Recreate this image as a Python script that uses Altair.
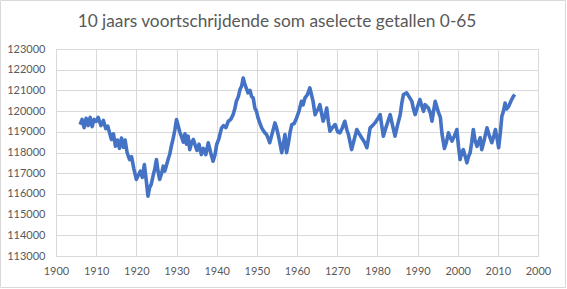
import altair as alt
import pandas as pd

years = [
1906.0,1906.5,1907.0,1907.5,1908.0,1908.5,1909.0,1909.5,1910.0,1910.5,1911.2,1911.8,1912.4,1912.9,1913.4,1913.8,
1914.3,1914.8,1915.3,1915.8,1916.3,1916.8,1917.2,1917.7,1918.3,1918.8,1919.4,1920.0,1920.5,1921.0,1921.5,1922.0,
1922.5,1922.9,1923.3,1923.7,1924.2,1924.6,1925.0,1925.4,1925.8,1926.3,1926.7,1927.1,1927.9,1928.3,1928.7,1929.2,
1929.6,1930.0,1930.4,1930.8,1931.2,1931.7,1932.1,1932.5,1932.9,1933.3,1933.8,1934.2,1934.6,1935.1,1935.6,1936.2,
1936.7,1937.3,1937.9,1938.5,1939.1,1939.6,1940.0,1940.6,1941.2,1941.7,1942.3,1942.9,1943.5,1944.1,1944.5,1944.9,
1945.4,1945.8,1946.2,1946.6,1947.0,1947.4,1947.8,1948.3,1948.7,1949.1,1949.5,1949.9,1950.3,1950.8,1951.2,1951.8,
1952.4,1952.8,1953.2,1953.8,1954.5,1954.9,1955.3,1955.7,1956.2,1956.6,1957.0,1957.4,1957.9,1958.3,1958.7,1959.3,
1959.9,1960.5,1961.1,1961.5,1962.0,1962.6,1963.2,1963.6,1964.0,1964.5,1964.9,1965.3,1965.7,1966.1,1966.5,1967.0,
1967.4,1967.8,1968.2,1968.8,1969.5,1970.1,1970.7,1971.3,1971.9,1972.4,1972.8,1973.2,1973.6,1974.2,1974.9,1975.5,
1976.1,1976.8,1977.4,1977.8,1978.2,1978.8,1979.4,1980.0,1980.7,1981.1,1981.5,1982.3,1983.2,1983.8,1984.4,1985.0,
1985.7,1986.1,1986.5,1987.3,1987.9,1988.6,1989.0,1989.4,1990.0,1990.6,1991.0,1991.5,1991.9,1992.7,1993.2,1993.6,
1994.0,1994.4,1995.2,1995.7,1996.1,1996.7,1997.2,1997.7,1998.2,1998.6,1999.2,1999.8,2000.2,2000.6,2001.0,2001.4,
2001.9,2002.3,2002.7,2003.1,2003.5,2003.9,2004.3,2004.8,2005.2,2005.6,2006.0,2006.6,2007.3,2007.9,2008.5,2009.0,
2009.4,2009.8,2010.2,2010.6,2011.0,2011.4,2011.8,2012.2,2012.7,2013.3,2013.9,2014.2,
]

values = [
119350,119600,119200,119650,119300,119700,119250,119600,119500,119700,119300,119550,119150,119270,118900,118630,
118900,118300,118600,118200,118700,118250,118600,118000,117660,117800,117200,116700,116900,117100,116800,117420,
116600,115890,116300,116460,116900,117200,117660,117100,116700,117000,117340,117100,117660,117900,118300,118700,
119100,119590,119300,119000,118790,118500,118900,118400,118790,118140,118500,118630,118380,118100,118400,117900,
118200,117900,118470,118000,117580,117900,118380,118700,119180,119300,119200,119510,119600,119830,120100,120470,
120700,121040,121200,121600,121300,121100,120880,121000,120700,120640,120150,120000,119670,119400,119190,119000,
118870,118700,118470,118900,119430,119200,118870,118500,117990,118400,118870,117990,118500,119000,119350,119400,
119670,120000,120470,120300,120640,120800,121120,120800,120470,119830,119990,120100,120310,119900,119510,119800,
120150,119500,119030,119200,119350,119000,118950,119200,119510,119100,118870,118500,118140,118600,119110,118900,
118710,118500,118230,118700,119190,119300,119430,119600,119830,119300,118790,119300,119830,119300,118790,119300,
119830,120400,120800,120880,120700,120470,120100,119830,120200,120560,120300,119990,120310,120150,119910,119510,
120000,120470,119950,119700,118900,118200,118500,118950,118700,118550,118800,119110,118300,117660,118000,118140,
117800,117500,117800,117990,118500,119110,118600,118300,118500,118710,118140,118600,119190,118800,118470,118800,
119110,118700,118230,118900,119750,120000,120390,120100,120230,120500,120720,120800,
]

x_tick_values = [1900, 1910, 1920, 1930, 1940, 1950, 1960, 1970, 1980, 1990, 2000, 2010, 2020]
x_tick_labels = ["1900", "1910", "1920", "1930", "1940", "1950", "1960", "1270", "1980", "1990", "2000", "2010", "2000"]
y_tick_values = list(range(113000, 123001, 1000))

title_text = "10 jaars voortschrijdende som aselecte getallen 0-65"

df = pd.DataFrame({"jaar": years, "som": values})

label_expr = " : ".join(
    [f"datum.value == {v} ? '{l}'" for v, l in zip(x_tick_values, x_tick_labels)]
) + " : datum.label"

grid_color = "#d9d9d9"
text_color = "#595959"
font = "Lato"

line = alt.Chart(df).mark_line(color="#4472C4", strokeWidth=3.6, strokeJoin="round").encode(
    x=alt.X("jaar:Q",
            scale=alt.Scale(domain=[1900, 2020], nice=False, zero=False),
            axis=alt.Axis(values=x_tick_values, labelExpr=label_expr, title=None,
                          domain=False, ticks=False, grid=True, gridColor=grid_color,
                          labelColor=text_color, labelFont=font, labelFontSize=11,
                          labelPadding=9, labelFlush=False)),
    y=alt.Y("som:Q",
            scale=alt.Scale(domain=[113000, 123000], nice=False, zero=False),
            axis=alt.Axis(values=y_tick_values, format="d", title=None,
                          domain=False, ticks=False, grid=True, gridColor=grid_color,
                          labelColor=text_color, labelFont=font, labelFontSize=11,
                          labelPadding=11)),
)

one = pd.DataFrame({"t": [title_text]})

title_mark = alt.Chart(one).mark_text(
    font=font, fontSize=17.3, color=text_color, align="center", baseline="middle"
).encode(text="t:N", x=alt.value(221), y=alt.value(-27))

border = alt.Chart(one).mark_rect(
    fill=None, stroke=grid_color, strokeWidth=1
).encode(
    x=alt.value(-55.5), x2=alt.value(509.5), y=alt.value(-48.5), y2=alt.value(238.5)
)

chart = alt.layer(line, title_mark, border).properties(
    width=482,
    height=207,
    autosize=alt.AutoSizeParams(type="none"),
    padding={"left": 56, "top": 49, "right": 29, "bottom": 33},
).configure_view(stroke=None).configure(background="white")

chart.save("out.html", embed_options={"renderer": "svg", "actions": False})
